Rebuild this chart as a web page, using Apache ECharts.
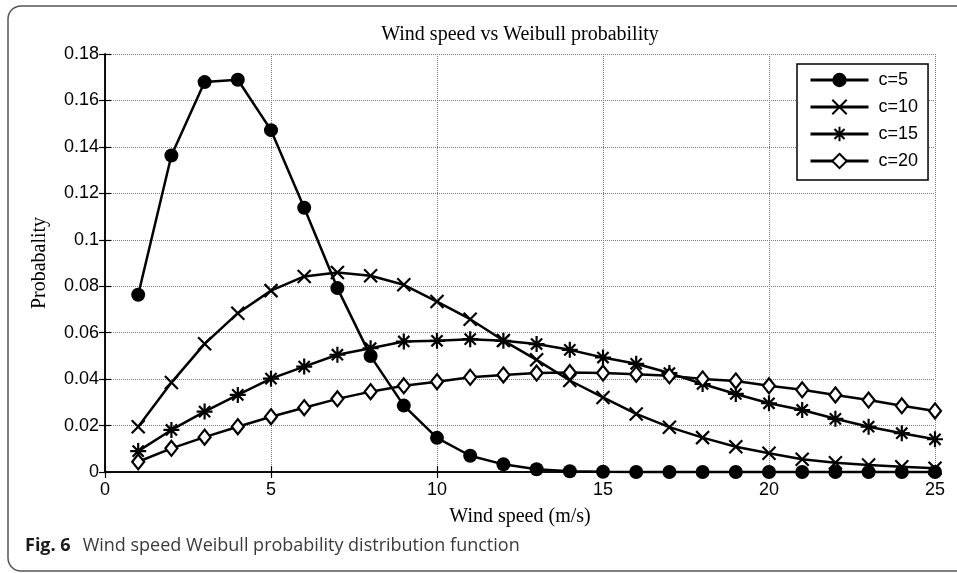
<!DOCTYPE html>
<html>
<head>
<meta charset="utf-8">
<script src="https://cdn.jsdelivr.net/npm/echarts@6/dist/echarts.min.js"></script>
<style>
html,body{margin:0;padding:0;background:#fff;}
#chart{width:957px;height:573px;}
</style>
</head>
<body>
<div id="chart"></div>
<script>
const windSpeed = [1,2,3,4,5,6,7,8,9,10,11,12,13,14,15,16,17,18,19,20,21,22,23,24,25];
const c5  = [0.0763,0.1363,0.1679,0.1689,0.1472,0.1138,0.0792,0.0499,0.0286,0.0147,0.0070,0.0033,0.0012,0.0003,0.0001,0,0,0,0,0,0,0,0,0,0];
const c10 = [0.0195,0.0385,0.0552,0.0684,0.0781,0.0842,0.0859,0.0845,0.0806,0.0734,0.0658,0.0566,0.0483,0.0394,0.0321,0.0250,0.0193,0.0148,0.0109,0.0081,0.0055,0.0040,0.0030,0.0023,0.0016];
const c15 = [0.0090,0.0181,0.0260,0.0332,0.0402,0.0454,0.0505,0.0533,0.0562,0.0565,0.0572,0.0565,0.0551,0.0526,0.0493,0.0466,0.0426,0.0379,0.0336,0.0296,0.0267,0.0229,0.0195,0.0167,0.0141];
const c20 = [0.0044,0.0102,0.0150,0.0195,0.0238,0.0277,0.0315,0.0346,0.0371,0.0389,0.0408,0.0418,0.0426,0.0428,0.0426,0.0421,0.0414,0.0401,0.0392,0.0371,0.0354,0.0332,0.0310,0.0285,0.0263];
const seriesNames = ['c=5','c=10','c=15','c=20'];
const xTicks = {min:0, max:25, interval:5};
const yTicks = {min:0, max:0.18, interval:0.02};
const titleText = 'Wind speed vs Weibull probability';
const xName = 'Wind speed (m/s)';
const yName = 'Probabality';
const captionBold = 'Fig. 6';
const captionText = 'Wind speed Weibull probability distribution function';

const pairs = v => windSpeed.map((x,i)=>[x, v[i]]);
const serif = 'Liberation Serif';
const sans = 'Liberation Sans';

const chart = echarts.init(document.getElementById('chart'), null, {renderer:'canvas'});

const baseLine = {color:'#000', width:2.5};
const mk = (name, vals, symbol, size, itemStyle) => ({
  name, type:'line', data: pairs(vals), symbol, symbolSize:size,
  showAllSymbol:true, lineStyle: baseLine, itemStyle, z:3,
  emphasis:{disabled:true}, animation:false, clip:false
});

const gridSplit = {show:true, lineStyle:{color:'#7a7a7a', type:'dotted', width:1}};
const axisLine = {show:true, lineStyle:{color:'#000', width:1.5}};
const axisTick = {show:true, inside:true, length:6, lineStyle:{color:'#000', width:1.2}};

chart.setOption({
  animation:false,
  backgroundColor:'#fff',
  grid:{left:105, right:22, top:54, bottom:101, containLabel:false},
  legend:{
    orient:'vertical', left:797, top:64,
    data: seriesNames,
    backgroundColor:'#fff', borderColor:'#000', borderWidth:1.5,
    padding:[7,10,10,12],
    itemWidth:58, itemHeight:18, itemGap:9,
    lineStyle:{width:3},
    textStyle:{fontFamily:sans, fontSize:18, color:'#000', padding:[0,0,0,5]},
    selectedMode:false
  },
  xAxis:[{
    type:'value', min:xTicks.min, max:xTicks.max, interval:xTicks.interval,
    name:xName, nameLocation:'middle', nameGap:35,
    nameTextStyle:{fontFamily:serif, fontSize:20, color:'#000'},
    axisLine, axisTick, splitLine:gridSplit,
    axisLabel:{fontFamily:sans, fontSize:18, color:'#000', margin:9}
  },{
    type:'value', position:'top', min:xTicks.min, max:xTicks.max, interval:xTicks.interval,
    axisLine, axisTick, splitLine:{show:false}, axisLabel:{show:false}
  }],
  yAxis:[{
    type:'value', min:yTicks.min, max:yTicks.max, interval:yTicks.interval,
    name:yName, nameLocation:'middle', nameGap:55,
    nameTextStyle:{fontFamily:serif, fontSize:20, color:'#000'},
    axisLine, axisTick, splitLine:gridSplit,
    axisLabel:{fontFamily:sans, fontSize:18, color:'#000', margin:6}
  },{
    type:'value', position:'right', min:yTicks.min, max:yTicks.max, interval:yTicks.interval,
    axisLine, axisTick, splitLine:{show:false}, axisLabel:{show:false}
  }],
  series:[
    mk(seriesNames[0], c5, 'circle', 14, {color:'#000', borderColor:'#000', borderWidth:0}),
    mk(seriesNames[1], c10, 'path://M0,0L10,10M10,0L0,10', 13, {color:'#000', borderColor:'#000', borderWidth:2.2}),
    mk(seriesNames[2], c15, 'path://M5,0L5,10M0,5L10,5M1.5,1.5L8.5,8.5M8.5,1.5L1.5,8.5', 16, {color:'#000', borderColor:'#000', borderWidth:2.2}),
    mk(seriesNames[3], c20, 'diamond', [12,15], {color:'#fff', borderColor:'#000', borderWidth:2.2})
  ],
  graphic:[
    {type:'rect', z:-10, shape:{x:8, y:6, width:1000, height:565, r:13}, style:{fill:'none', stroke:'#555', lineWidth:1.5}},
    {type:'text', x:520, y:35, style:{text:titleText, font:'20px "Liberation Serif"', fill:'#000', textAlign:'center', textVerticalAlign:'middle'}},
    {type:'text', x:25, y:546, style:{
      text:'{b|'+captionBold+'}{n|'+captionText+'}',
      font:'18px "Open Sans"', fill:'#3a3a3a', textVerticalAlign:'middle',
      rich:{
        b:{fontWeight:'bold', fontFamily:'Open Sans', fontSize:18, fill:'#1a1a1a', padding:[0,12,0,0]},
        n:{fontFamily:'Open Sans', fontSize:18, fill:'#3a3a3a'}
      }
    }}
  ]
});
</script>
</body>
</html>
